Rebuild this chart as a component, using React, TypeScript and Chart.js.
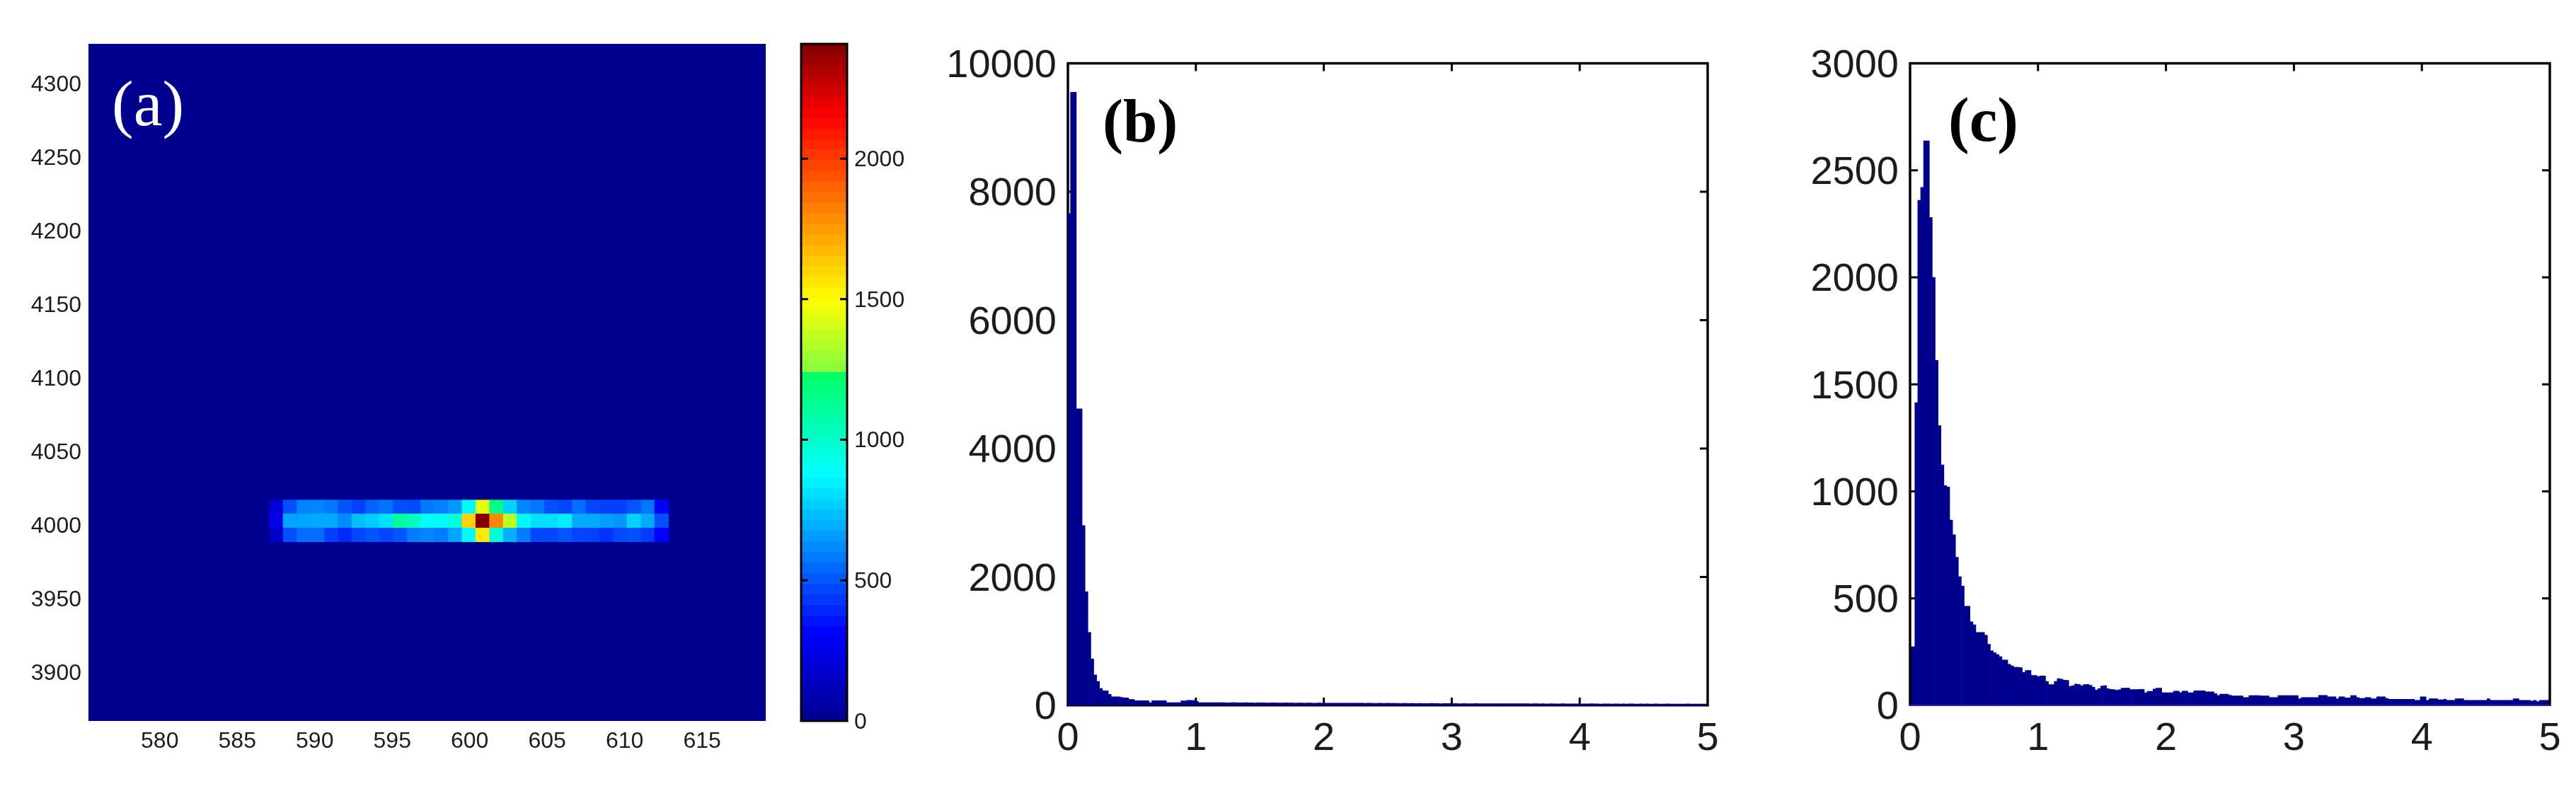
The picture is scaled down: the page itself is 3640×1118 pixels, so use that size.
import React, { useEffect, useRef } from "react";
import { Chart, registerables } from "chart.js";

Chart.register(...registerables);

const NAVY = "#00008f";
const INK = "#1c1c1c";
const SANS = "'Liberation Sans', Arial, sans-serif";
const SERIF = "'Liberation Serif', 'Times New Roman', serif";

// panel (a)
const heatXTicks = [580, 585, 590, 595, 600, 605, 610, 615];
const heatYTicks = [3900, 3950, 4000, 4050, 4100, 4150, 4200, 4250, 4300];
const heatColStart = 587.07;
const heatColWidth = 0.888;
const heatRowEdges = [4017.1, 4008.0, 3998.4, 3988.7];
const heatRowTop = [200, 490, 600, 612, 578, 500, 456, 534, 567, 490, 478, 578, 600, 645, 867, 1440, 1168, 778, 612, 578, 490, 467, 556, 467, 456, 456, 500, 567, 312];
const heatRowMid = [250, 678, 680, 690, 690, 620, 735, 767, 810, 1121, 1030, 878, 890, 960, 1615, 2400, 1805, 1352, 870, 810, 810, 845, 690, 690, 668, 650, 780, 690, 490];
const heatRowLow = [170, 490, 556, 556, 456, 400, 467, 500, 467, 500, 590, 612, 590, 678, 867, 1550, 970, 700, 590, 467, 467, 500, 467, 456, 423, 478, 490, 445, 312];

// colour bar
const cbTicks = [0, 500, 1000, 1500, 2000];
const cbMax = 2408;
const cbLevels = 64;
const colorStops: [number, number, number, number][] = [
  [0, 0, 0, 143], [312, 0, 0, 255], [878, 0, 255, 255], [1237, 0, 255, 100],
  [1238, 128, 255, 64], [1498, 255, 255, 0], [2150, 255, 0, 0], [2408, 128, 0, 0],
];

// panels (b), (c)
const histXTicks = [0, 1, 2, 3, 4, 5];
const histBinWidth = 0.0227;
const histBTicks = [0, 2000, 4000, 6000, 8000, 10000];
const histCTicks = [0, 500, 1000, 1500, 2000, 2500, 3000];
const histB = [
  7660, 9550, 9550, 4620, 4620, 2800, 1770, 1137, 723, 477, 374, 264, 227, 227, 172, 135, 135, 135, 125, 117, 117, 92, 92, 73, 73, 73, 73, 73, 44, 73, 73, 73, 73, 73, 44, 44, 44, 44, 44, 70, 70, 80, 80, 75, 62,
  44, 44, 44, 42, 42, 44, 44, 42, 42, 40, 40, 42, 42, 40, 40, 40, 42, 40, 40, 38, 40, 40, 40, 38, 38, 40, 40, 38, 38, 38, 40, 38, 38, 36, 38, 38, 36, 38, 38, 36, 36, 38, 36, 36, 36,
  34, 36, 36, 34, 34, 36, 34, 34, 34, 36, 34, 34, 32, 34, 34, 32, 32, 34, 32, 32, 34, 32, 32, 32, 30, 32, 32, 30, 32, 30, 30, 32, 30, 30, 30, 32, 30, 30, 28, 30, 30, 30, 28, 30, 28, 28,
  30, 28, 28, 28, 30, 28, 28, 28, 26, 28, 28, 26, 28, 26, 26, 28, 26, 26, 26, 28, 26, 26, 26, 24, 26, 26, 24, 26, 24, 24, 26, 24, 24, 24, 26, 24, 24, 24, 24, 24, 22, 24, 24, 24,
  26, 24, 24, 22, 24, 24, 24, 22, 24, 24, 22, 24, 22, 24, 24, 22, 22, 24, 22, 24, 22, 22, 24, 22, 22, 22, 24, 22, 22, 22, 20, 22, 22, 24, 22, 22, 20, 22, 22, 22, 22,
];
const histC = [
  274, 274, 1415, 2360, 2420, 2638, 2638, 2280, 2000, 1612, 1307, 1124, 1027, 1020, 866, 797, 692, 601, 558, 463, 463, 391, 377, 341, 341, 341, 328, 286, 255, 246, 238, 228, 212, 212, 192, 185, 178, 178, 177, 154, 163, 163, 140, 140, 135, 138, 138, 112, 97, 97, 112, 125, 123, 118, 117, 89, 92, 100, 98, 92, 97, 98, 94, 85, 72, 78, 91, 92, 78, 75, 74, 71,
  73, 81, 81, 81, 74, 74, 74, 75, 75, 59, 66, 66, 77, 81, 81, 59, 59, 59, 59, 67, 67, 60, 67, 67, 59, 59, 68, 68, 68, 68, 63, 63, 63, 55, 47, 53, 53, 53, 48, 44, 44, 44, 44, 37, 37, 46, 46, 46, 46, 44, 44, 44, 37, 37, 37, 46, 46, 46, 46, 46, 46, 46, 31, 37, 37, 37, 37, 37, 37, 47, 47, 47, 40, 40, 40, 31, 40, 40,
  35, 35, 46, 46, 37, 33, 33, 37, 37, 31, 31, 40, 40, 40, 33, 29, 29, 29, 29, 29, 29, 29, 29, 29, 24, 24, 40, 40, 24, 31, 31, 31, 26, 26, 29, 24, 24, 24, 31, 31, 31, 24, 24, 24, 24, 24, 24, 24, 24, 31, 24, 24, 24, 24, 24, 24, 24, 24, 31, 31, 24, 24, 24, 24, 20, 24, 18, 24, 24, 24, 24,
];

function colorOf(v: number): string {
  for (let i = 1; i < colorStops.length; i++) {
    const [v1, r1, g1, b1] = colorStops[i];
    if (v <= v1) {
      const [v0, r0, g0, b0] = colorStops[i - 1];
      const t = (v - v0) / (v1 - v0);
      return `rgb(${Math.round(r0 + (r1 - r0) * t)},${Math.round(g0 + (g1 - g0) * t)},${Math.round(b0 + (b1 - b0) * t)})`;
    }
  }
  return "rgb(128,0,0)";
}

type Box = { left: number; top: number; width: number; height: number };

// fixes the plot rectangle inside its canvas; nudge moves y tick labels onto their tick
function fixAxis(size: number, ticks: number[], nudge = 0) {
  return {
    afterBuildTicks: (s: any) => { s.ticks = ticks.map((value) => ({ value })); },
    afterFit: (s: any) => {
      if (s.isHorizontal()) s.height = size; else s.width = size;
      s.paddingLeft = s.paddingRight = s.paddingTop = s.paddingBottom = 0;
      if (nudge && !s.__nudged) {
        s.__nudged = true;
        const orig = s._computeLabelItems.bind(s);
        s._computeLabelItems = (ca: any) => orig(ca).map((it: any) => ({
          ...it,
          options: { ...it.options, translation: [it.options.translation[0], it.options.translation[1] + nudge] },
        }));
      }
    },
  };
}

function framePlugin(o: { lw: number; tick: number; onTop: boolean; ticksOnTop?: boolean; bottomColor?: string; bottomLw?: number; both?: boolean }) {
  const drawTicks = (chart: any) => {
    const { ctx, chartArea: a, scales } = chart;
    ctx.save();
    ctx.strokeStyle = "#000";
    ctx.lineWidth = 3;
    ctx.beginPath();
    if (scales.y) for (const t of scales.y.ticks) {
      const y = scales.y.getPixelForValue(t.value);
      if (y <= a.top + 1 || y >= a.bottom - 1) continue;
      ctx.moveTo(a.left, y); ctx.lineTo(a.left + o.tick, y);
      ctx.moveTo(a.right, y); ctx.lineTo(a.right - o.tick, y);
    }
    if (o.both && scales.x) for (const t of scales.x.ticks) {
      const x = scales.x.getPixelForValue(t.value);
      if (x <= a.left + 1 || x >= a.right - 1) continue;
      ctx.moveTo(x, a.top); ctx.lineTo(x, a.top + o.tick);
      ctx.moveTo(x, a.bottom); ctx.lineTo(x, a.bottom - o.tick);
    }
    ctx.stroke();
    ctx.restore();
  };
  const drawFrame = (chart: any) => {
    const { ctx, chartArea: a } = chart;
    ctx.save();
    ctx.strokeStyle = "#000";
    ctx.lineWidth = o.lw;
    ctx.beginPath();
    ctx.moveTo(a.left, a.bottom); ctx.lineTo(a.left, a.top); ctx.lineTo(a.right, a.top); ctx.lineTo(a.right, a.bottom);
    ctx.stroke();
    ctx.strokeStyle = o.bottomColor || "#000";
    ctx.lineWidth = o.bottomLw || o.lw;
    ctx.beginPath();
    ctx.moveTo(a.left - o.lw / 2, a.bottom); ctx.lineTo(a.right + o.lw / 2, a.bottom);
    ctx.stroke();
    ctx.restore();
  };
  return {
    id: "frame",
    beforeDatasetsDraw: (chart: any) => { if (!o.ticksOnTop) drawTicks(chart); if (!o.onTop) drawFrame(chart); },
    afterDatasetsDraw: (chart: any) => { if (o.ticksOnTop) drawTicks(chart); if (o.onTop) drawFrame(chart); },
  };
}

function labelPlugin(text: string, x: number, y: number, font: string, color: string) {
  return {
    id: "panelLabel",
    afterDraw: (chart: any) => {
      const { ctx } = chart;
      ctx.save();
      ctx.font = font;
      ctx.fillStyle = color;
      ctx.textAlign = "left";
      ctx.textBaseline = "alphabetic";
      ctx.fillText(text, x, y);
      ctx.restore();
    },
  };
}

const areaFill = {
  id: "areaFill",
  beforeDraw: (chart: any) => {
    const { ctx, chartArea: a } = chart;
    ctx.save();
    ctx.fillStyle = NAVY;
    ctx.fillRect(a.left, a.top, a.right - a.left, a.bottom - a.top);
    ctx.restore();
  },
};

const tickFont = (size: number) => ({ family: SANS, size, weight: "normal" as const });
const axisStyle = { grid: { display: false, drawTicks: false }, border: { display: false } };
const base = { responsive: false, animation: false as const, devicePixelRatio: 1, plugins: { legend: { display: false }, tooltip: { enabled: false } } };

function histConfig(values: number[], offset: number, yTicks: number[], box: Box, area: { l: number; r: number; t: number; b: number }, plugins: any[]) {
  return {
    type: "bar" as const,
    data: {
      datasets: [{
        data: values.map((y, i) => ({ x: offset + i * histBinWidth, y })),
        backgroundColor: NAVY, borderWidth: 0, barPercentage: 1, categoryPercentage: 1,
      }],
    },
    options: {
      ...base,
      layout: { padding: { left: 0, top: area.t - box.top, right: box.left + box.width - area.r, bottom: 0 } },
      scales: {
        x: {
          type: "linear" as const, min: 0, max: 5, offset: false, ...axisStyle, ...fixAxis(box.top + box.height - area.b, histXTicks),
          ticks: { font: tickFont(56), color: INK, padding: 14, maxRotation: 0, autoSkip: false, callback: (v: any) => String(v) },
        },
        y: {
          type: "linear" as const, min: 0, max: yTicks[yTicks.length - 1], ...axisStyle, ...fixAxis(area.l - box.left, yTicks, 4),
          ticks: { font: tickFont(56), color: INK, padding: 16, autoSkip: false, callback: (v: any) => String(v) },
        },
      },
    },
    plugins,
  };
}

const boxes: Record<string, Box> = {
  a: { left: 0, top: 0, width: 1100, height: 1118 },
  cb: { left: 1110, top: 0, width: 200, height: 1118 },
  b: { left: 1310, top: 0, width: 1190, height: 1118 },
  c: { left: 2510, top: 0, width: 1130, height: 1118 },
};

export default function App() {
  const aRef = useRef<HTMLCanvasElement>(null);
  const cbRef = useRef<HTMLCanvasElement>(null);
  const bRef = useRef<HTMLCanvasElement>(null);
  const cRef = useRef<HTMLCanvasElement>(null);

  useEffect(() => {
    const rows = [heatRowTop, heatRowMid, heatRowLow];
    const heat = new Chart(aRef.current as any, {
      type: "bar",
      data: {
        datasets: rows.map((row, r) => ({
          grouped: false,
          data: row.map((_, c) => ({ x: heatColStart + (c + 0.5) * heatColWidth, y: [heatRowEdges[r + 1], heatRowEdges[r]] })),
          backgroundColor: row.map(colorOf),
          borderWidth: 0, barPercentage: 1, categoryPercentage: 1,
        })),
      } as any,
      options: {
        ...base,
        layout: { padding: { left: 0, top: 62, right: 18, bottom: 0 } },
        scales: {
          x: {
            type: "linear", min: 575.4, max: 619.1, offset: false, ...axisStyle, ...fixAxis(99, heatXTicks),
            ticks: { font: tickFont(32), color: INK, padding: 10, maxRotation: 0, autoSkip: false, callback: (v: any) => String(v) },
          },
          y: {
            type: "linear", min: 3867, max: 4327, ...axisStyle, ...fixAxis(125, heatYTicks, 2),
            ticks: { font: tickFont(32), color: INK, padding: 10, autoSkip: false, callback: (v: any) => String(v) },
          },
        },
      } as any,
      plugins: [areaFill, labelPlugin("(a)", 158, 177, `92px ${SERIF}`, "#ffffff")],
    } as any);

    const levels = Array.from({ length: cbLevels }, (_, i) => (i + 0.5) * cbMax / cbLevels);
    const bar = new Chart(cbRef.current as any, {
      type: "bar",
      data: {
        datasets: [{
          data: levels.map((y) => ({ x: 1, y })),
          backgroundColor: levels.map(colorOf),
          borderWidth: 0, barPercentage: 1, categoryPercentage: 1,
        }],
      } as any,
      options: {
        ...base,
        indexAxis: "y",
        layout: { padding: { left: 22, top: 62, right: 0, bottom: 99 } },
        scales: {
          x: { type: "linear", min: 0, max: 1, display: false },
          y: {
            type: "linear", position: "right", min: 0, max: cbMax, offset: false, ...axisStyle, ...fixAxis(113, cbTicks, 2),
            ticks: { font: tickFont(32), color: INK, padding: 10, autoSkip: false, callback: (v: any) => String(v) },
          },
        },
      } as any,
      plugins: [framePlugin({ lw: 3, tick: 10, onTop: true, ticksOnTop: true })],
    } as any);

    const histb = new Chart(bRef.current as any, histConfig(
      histB, 0.0091, histBTicks, boxes.b, { l: 1509, r: 2413, t: 89.5, b: 997 },
      [framePlugin({ lw: 3.5, tick: 11, onTop: false, both: true, bottomLw: 3 }), labelPlugin("(b)", 1558 - boxes.b.left, 200, `bold 87px ${SERIF}`, "#000")],
    ) as any);

    const histc = new Chart(cRef.current as any, histConfig(
      histC, 0.0034, histCTicks, boxes.c, { l: 2699, r: 3603, t: 89.5, b: 997 },
      [framePlugin({ lw: 3.5, tick: 11, onTop: true, both: true, bottomColor: "#2a2aa8", bottomLw: 2 }), labelPlugin("(c)", 2753 - boxes.c.left, 199, `bold 89px ${SERIF}`, "#000")],
    ) as any);

    return () => { heat.destroy(); bar.destroy(); histb.destroy(); histc.destroy(); };
  }, []);

  const place = (b: Box) => ({ position: "absolute" as const, left: b.left, top: b.top, width: b.width, height: b.height, display: "block" });

  return (
    <div style={{ position: "absolute", left: 0, top: 0, width: 3640, height: 1118, background: "#fff", overflow: "hidden" }}>
      <canvas ref={aRef} width={boxes.a.width} height={boxes.a.height} style={place(boxes.a)} />
      <canvas ref={cbRef} width={boxes.cb.width} height={boxes.cb.height} style={place(boxes.cb)} />
      <canvas ref={bRef} width={boxes.b.width} height={boxes.b.height} style={place(boxes.b)} />
      <canvas ref={cRef} width={boxes.c.width} height={boxes.c.height} style={place(boxes.c)} />
    </div>
  );
}
